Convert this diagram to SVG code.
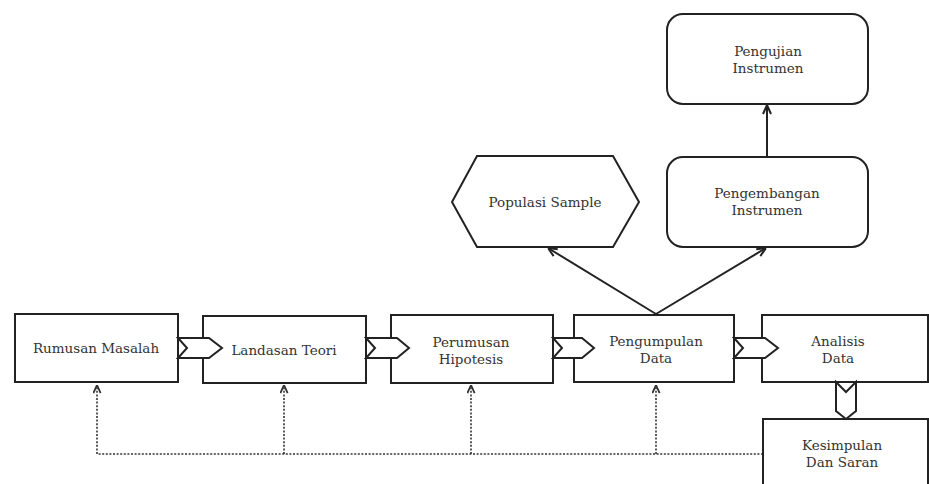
<svg xmlns="http://www.w3.org/2000/svg" width="929" height="484" viewBox="0 0 929 484">
<style>
.box{fill:#fff;stroke:#222;stroke-width:2}
.chev{fill:#fff;stroke:#222;stroke-width:2;stroke-linejoin:miter}
.t{font-family:'DejaVu Serif',serif;font-size:13.5px;fill:#333;text-anchor:middle}
.dot{fill:none;stroke:#333;stroke-width:1.6;stroke-dasharray:2,1.6}
.ln{fill:none;stroke:#222;stroke-width:2}
</style>
<defs>
<marker id="ah" viewBox="0 0 10 10" refX="10" refY="5" markerWidth="10" markerHeight="10" markerUnits="userSpaceOnUse" orient="auto">
<path d="M1,1 L10,5 L1,9" fill="none" stroke="#222" stroke-width="2"/>
</marker>
<marker id="ahd" viewBox="0 0 10 10" refX="10" refY="5" markerWidth="9" markerHeight="9" markerUnits="userSpaceOnUse" orient="auto">
<path d="M1,1 L10,5 L1,9" fill="none" stroke="#333" stroke-width="2"/>
</marker>
</defs>

<g id="connectors">
<path class="dot" d="M763,454 H97"/>
<path class="dot" d="M97,454 V385" marker-end="url(#ahd)"/>
<path class="dot" d="M284,454 V385" marker-end="url(#ahd)"/>
<path class="dot" d="M471,454 V385" marker-end="url(#ahd)"/>
<path class="dot" d="M656,454 V385" marker-end="url(#ahd)"/>
<path class="ln" d="M656,314 L548,248" marker-end="url(#ah)"/>
<path class="ln" d="M656,314 L766,248" marker-end="url(#ah)"/>
<path class="ln" d="M767,157 V105" marker-end="url(#ah)"/>
</g>

<g id="pengujian">
<rect class="box" x="667" y="14" width="201" height="90" rx="16"/>
<text class="t" x="768" y="56">Pengujian</text>
<text class="t" x="768" y="73">Instrumen</text>
</g>
<g id="pengembangan">
<rect class="box" x="667" y="157" width="201" height="90" rx="16"/>
<text class="t" x="767" y="198">Pengembangan</text>
<text class="t" x="767" y="215">Instrumen</text>
</g>
<g id="populasi">
<polygon class="box" points="452,202 477,156 613,156 639,202 613,247 477,247"/>
<text class="t" x="545" y="207">Populasi Sample</text>
</g>

<g id="rumusan">
<rect class="box" x="15" y="314" width="163" height="68"/>
<text class="t" x="96" y="353">Rumusan Masalah</text>
</g>
<g id="landasan">
<rect class="box" x="203" y="316" width="163" height="67"/>
<text class="t" x="284" y="355">Landasan Teori</text>
</g>
<g id="perumusan">
<rect class="box" x="391" y="315" width="162" height="68"/>
<text class="t" x="471" y="347">Perumusan</text>
<text class="t" x="471" y="364">Hipotesis</text>
</g>
<g id="pengumpulan">
<rect class="box" x="574" y="315" width="160" height="67"/>
<text class="t" x="656" y="346">Pengumpulan</text>
<text class="t" x="656" y="363">Data</text>
</g>
<g id="analisis">
<rect class="box" x="762" y="315" width="166" height="67"/>
<text class="t" x="838" y="346">Analisis</text>
<text class="t" x="838" y="363">Data</text>
</g>
<g id="kesimpulan">
<rect class="box" x="763" y="419" width="165" height="80"/>
<text class="t" x="842" y="450">Kesimpulan</text>
<text class="t" x="842" y="467">Dan Saran</text>
</g>

<g id="flow-arrows">
<path class="chev" d="M178,338 L209,338 L222,348 L209,358 L178,358 L187,348 Z"/>
<path class="chev" d="M366,338 L397,338 L409,348 L397,358 L366,358 L375,348 Z"/>
<path class="chev" d="M553,338 L582,338 L594,348 L582,358 L553,358 L562,348 Z"/>
<path class="chev" d="M734,338 L765,338 L778,348 L765,358 L734,358 L743,348 Z"/>
<path class="chev" d="M836,382 L846,392 L856,382 L856,411 L846,419 L836,411 Z"/>
</g>
</svg>
